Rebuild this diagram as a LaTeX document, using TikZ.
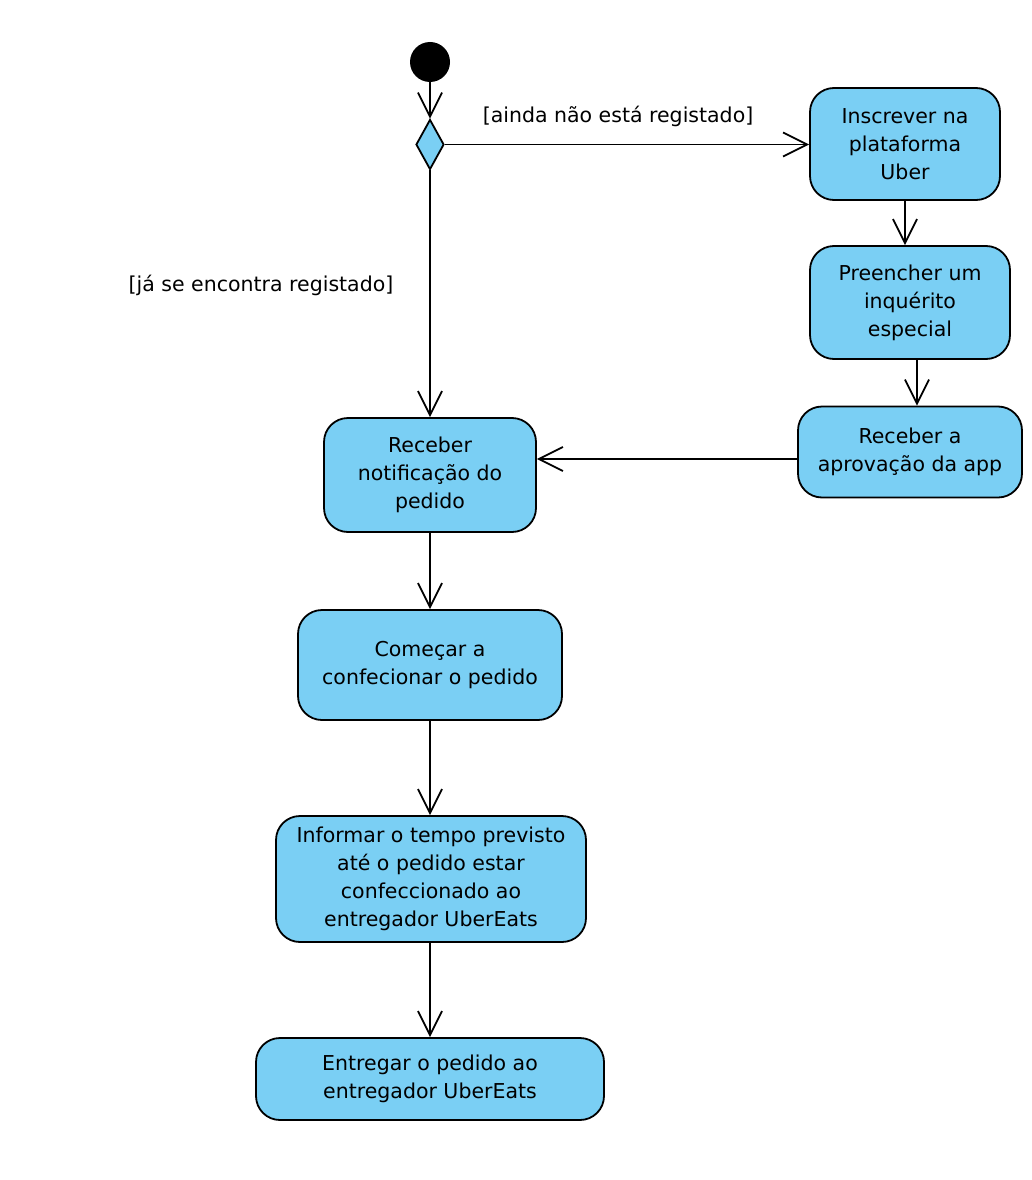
\documentclass[tikz,border=0pt]{standalone}
\usepackage{fontspec}
\setmainfont{DejaVu Sans}
\usetikzlibrary{arrows.meta,shapes.geometric}
\definecolor{actfill}{RGB}{122,207,244}
\tikzset{
  act/.style={draw=black, line width=1.8pt, fill=actfill, rounded corners=24pt, align=center, inner sep=0pt, font=\fontsize{20.5}{28}\selectfont},
  flow/.style={line width=1.8pt, -{Straight Barb[length=24pt,width=24pt,line width=1.8pt]}},
  guard/.style={font=\fontsize{20.5}{24}\selectfont, inner sep=0pt}
}
\begin{document}
\begin{tikzpicture}[x=1pt,y=-1pt]
\useasboundingbox (0,0) rectangle (1032,1180);
\node[circle, fill=black, minimum size=40pt, inner sep=0pt] (start) at (430,62) {};
\node[diamond, draw=black, line width=1.8pt, fill=actfill, minimum width=28pt, minimum height=50pt, inner sep=0pt] (dec) at (430,144.5) {};
\node[act, minimum width=190pt, minimum height=112pt] (insc) at (905,144) {Inscrever na\\plataforma\\Uber};
\node[act, minimum width=200pt, minimum height=113pt] (pree) at (910,302.5) {Preencher um\\inquérito\\especial};
\node[act, minimum width=224pt, minimum height=91pt] (aprov) at (910,452) {Receber a\\aprovação da app};
\node[act, minimum width=212pt, minimum height=114pt] (notif) at (430,475) {Receber\\notificação do\\pedido};
\node[act, minimum width=264pt, minimum height=110pt] (come) at (430,665) {Começar a\\confecionar o pedido};
\node[act, minimum width=310pt, minimum height=126pt] (info) at (431,879) {Informar o tempo previsto\\até o pedido estar\\confeccionado ao\\entregador UberEats};
\node[act, minimum width=348pt, minimum height=82pt] (entr) at (430,1079) {Entregar o pedido ao\\entregador UberEats};
\draw[flow] (start) -- (dec.north);
\draw[flow] (dec.east) -- (insc.west |- dec.east);
\draw[flow] (dec.south) -- (notif.north);
\draw[flow] (insc.south) -- (insc.south |- pree.north);
\draw[flow] (pree.south -| 917,0) -- (917,0 |- aprov.north);
\draw[flow] (aprov.west |- 0,459) -- (notif.east |- 0,459);
\draw[flow] (notif.south) -- (come.north);
\draw[flow] (come.south) -- (info.north -| come.south);
\draw[flow] (info.south -| 430,0) -- (entr.north);
\node[guard] (g1) at (618,116) {[ainda não está registado]};
\node[guard] (g2) at (261,285) {[já se encontra registado]};
\end{tikzpicture}
\end{document}
